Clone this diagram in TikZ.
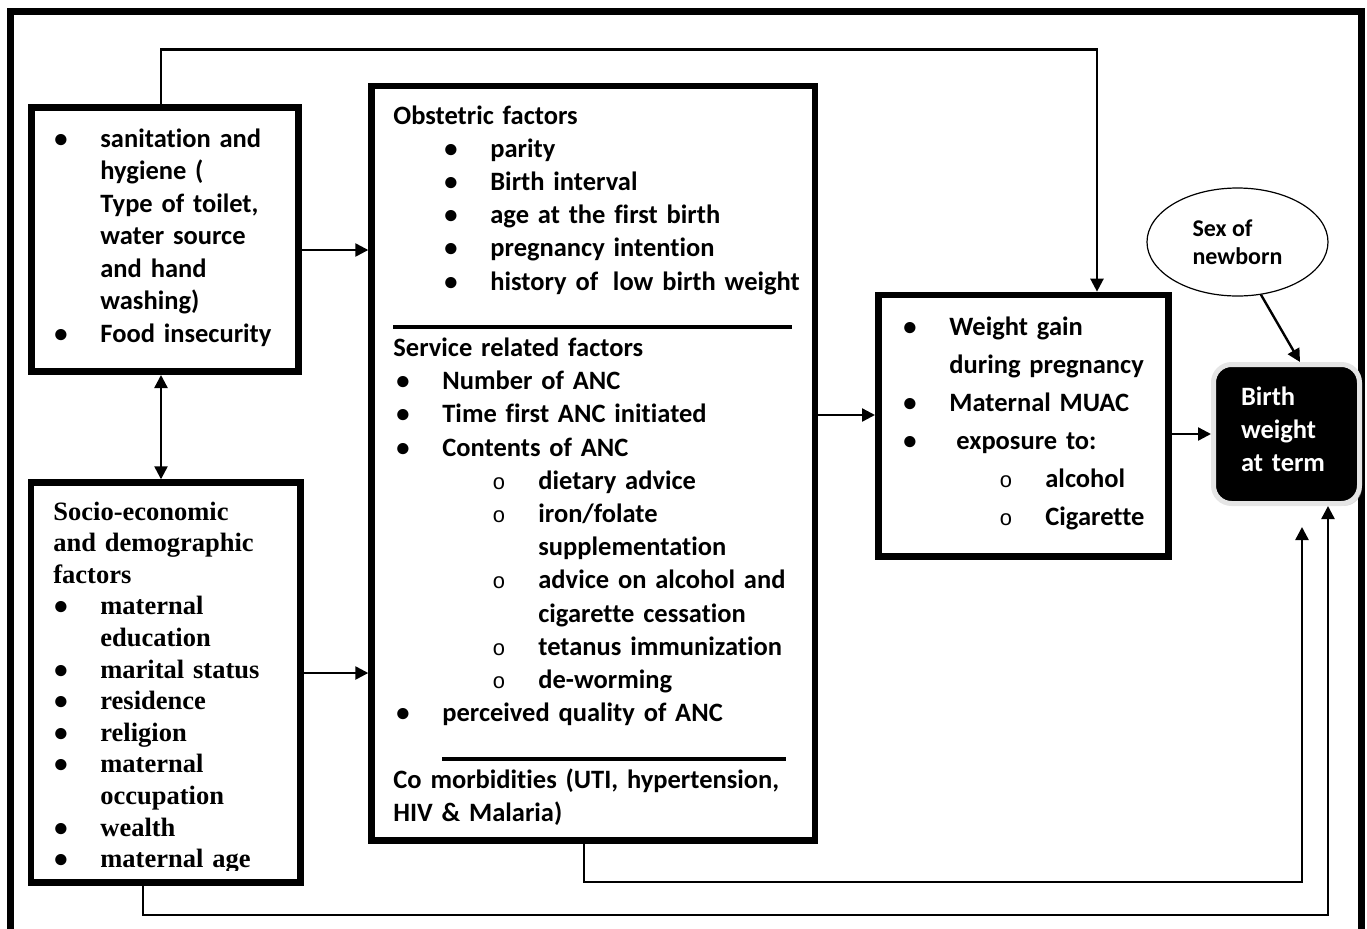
\documentclass[tikz,border=0pt]{standalone}
\usepackage{fontspec}
\setmainfont{Carlito}[Ligatures=NoCommon]
\newfontfamily\timesfont{Liberation Serif}
\newfontfamily\crcfont{Liberation Mono}
\newfontfamily\bltfont{Carlito}
\usetikzlibrary{arrows.meta}
\usetikzlibrary{shapes.geometric}
\usetikzlibrary{shadows}

\newdimen\pxu
\pxu=0.5pt
\newcommand{\blt}{\makebox[46\pxu][l]{\bltfont\textbullet}}
\newcommand{\crc}{\makebox[46\pxu][l]{\crcfont\mdseries\fontsize{11}{11}\selectfont o}}
\newcommand{\ind}[1]{\hspace*{#1\pxu}}
\newcommand{\sepline}[1]{\rule[-6\pxu]{#1\pxu}{4\pxu}}
\newcommand{\fs}[1]{\bfseries\fontsize{13.25}{#1}\selectfont}

\begin{document}
\begin{tikzpicture}[x=0.5pt, y=-0.5pt,
  factor/.style={draw, line width=3.3pt, inner sep=0pt},
  txt/.style={anchor=base west, inner sep=0pt, text width=300pt, align=left},
  link/.style={line width=1.2pt},
  arr/.style={link, -{Triangle[length=6.5pt, width=6.5pt]}},
  dblarr/.style={link, {Triangle[length=6.5pt, width=6.5pt]}-{Triangle[length=6.5pt, width=6.5pt]}}]
  \useasboundingbox (0,0) rectangle (1367,928);
  \draw[line width=3.5pt] (10.5,960) |- (1361.5,11.7) -- (1361.5,960);

  \node[factor, minimum width=133.5pt, minimum height=132.2pt] (sanit) at (164.9,239.5) {};
  \node[factor, minimum width=134.85pt, minimum height=200pt] (socio) at (165.9,682.6) {};
  \node[factor, minimum width=221.7pt, minimum height=377.35pt] (obst) at (593.3,463.3) {};
  \node[factor, minimum width=145pt, minimum height=130.85pt] (weight) at (1023.3,425.8) {};
  \node[ellipse, draw, line width=0.6pt, minimum width=90.5pt, minimum height=54pt, inner sep=0pt, align=left,
    font=\bfseries\fontsize{12}{14.25}\selectfont] (sex) at (1237.5,242) {Sex of\\newborn};
  \node[rectangle, rounded corners=9pt, fill=black, draw=gray!20, line width=2.5pt, text=white,
    minimum width=73pt, minimum height=69.5pt, text width=45.5pt, align=left, font=\fs{16.5},
    drop shadow={shadow xshift=1.2pt, shadow yshift=-1.2pt, fill=gray!60}] (bw) at (1286.5,434)
    {Birth\\weight\\at term\rule[-10\pxu]{0pt}{0pt}};

  \node[txt, font=\fs{16.25}] (sanittxt) at (54,147) {\blt sanitation and\\
    \ind{46}hygiene (\\
    \ind{46}Type of toilet,\\
    \ind{46}water source\\
    \ind{46}and hand\\
    \ind{46}washing)\\
    \blt Food insecurity};

  \begin{scope}
    \clip (31,482.6) rectangle (300.7,870);
    \node[txt, font=\timesfont\fs{15.8}] (sociotxt) at (53,520) {Socio-economic\\
      and demographic\\
      factors\\
      \ind{1}\blt maternal\\
      \ind{47}education\\
      \ind{1}\blt marital status\\
      \ind{1}\blt residence\\
      \ind{1}\blt religion\\
      \ind{1}\blt maternal\\
      \ind{47}occupation\\
      \ind{1}\blt wealth\\
      \ind{1}\blt maternal age};
  \end{scope}

  \node[txt, font=\fs{16.6}] (obsttxt) at (393,124) {Obstetric factors\\
    \ind{51}\blt parity\\
    \ind{51}\blt Birth interval\\
    \ind{51}\blt age at the first birth\\
    \ind{51}\blt pregnancy intention\\
    \ind{51}\blt history of\hspace{6\pxu} low birth weight\\
    \sepline{399}\\
    Service related factors\\
    \ind{3}\blt Number of ANC\\
    \ind{3}\blt Time first ANC initiated\\
    \ind{3}\blt Contents of ANC\\
    \ind{99}\crc dietary advice\\
    \ind{99}\crc iron/folate\\
    \ind{145}supplementation\\
    \ind{99}\crc advice on alcohol and\\
    \ind{145}cigarette cessation\\
    \ind{99}\crc tetanus immunization\\
    \ind{99}\crc de-worming\\
    \ind{3}\blt perceived quality of ANC\\
    \ind{49}\sepline{344}\\
    Co morbidities (UTI, hypertension,\\
    HIV \& Malaria)};

  \node[txt, font=\fs{19}] (weighttxt) at (903,335) {\blt Weight gain\\
    \ind{46}during pregnancy\\
    \blt Maternal MUAC\\
    \blt\ind{7}exposure to:\\
    \ind{96}\crc alcohol\\
    \ind{96}\crc Cigarette};

  \coordinate (xl) at (161,0);
  \coordinate (xa) at (584,0);
  \coordinate (xb) at (143,0);
  \coordinate (xs) at (1300,0);
  \coordinate (ya) at (0,250);
  \coordinate (yb) at (0,673);
  \coordinate (yc) at (0,415);
  \coordinate (topbend) at (1097,49.3);
  \coordinate (bendA) at (1302,882);
  \coordinate (endA) at (1302,527);
  \coordinate (bendB) at (1328,915);

  \draw[arr] (sanit.north -| xl) |- (topbend) -- (topbend |- weight.north);
  \draw[dblarr] (sanit.south -| xl) -- (socio.north -| xl);
  \draw[arr] (sanit.east |- ya) -- (obst.west |- ya);
  \draw[arr] (socio.east |- yb) -- (obst.west |- yb);
  \draw[arr] (obst.east |- yc) -- (weight.west |- yc);
  \draw[arr] (weight.east |- bw.west) -- (bw.west);
  \draw[arr] (sex.-66) -- (bw.north -| xs);
  \draw[arr] (obst.south -| xa) |- (bendA) -- (endA);
  \draw[arr] (socio.south -| xb) |- (bendB) -- (bendB |- bw.south);
\end{tikzpicture}
\end{document}
